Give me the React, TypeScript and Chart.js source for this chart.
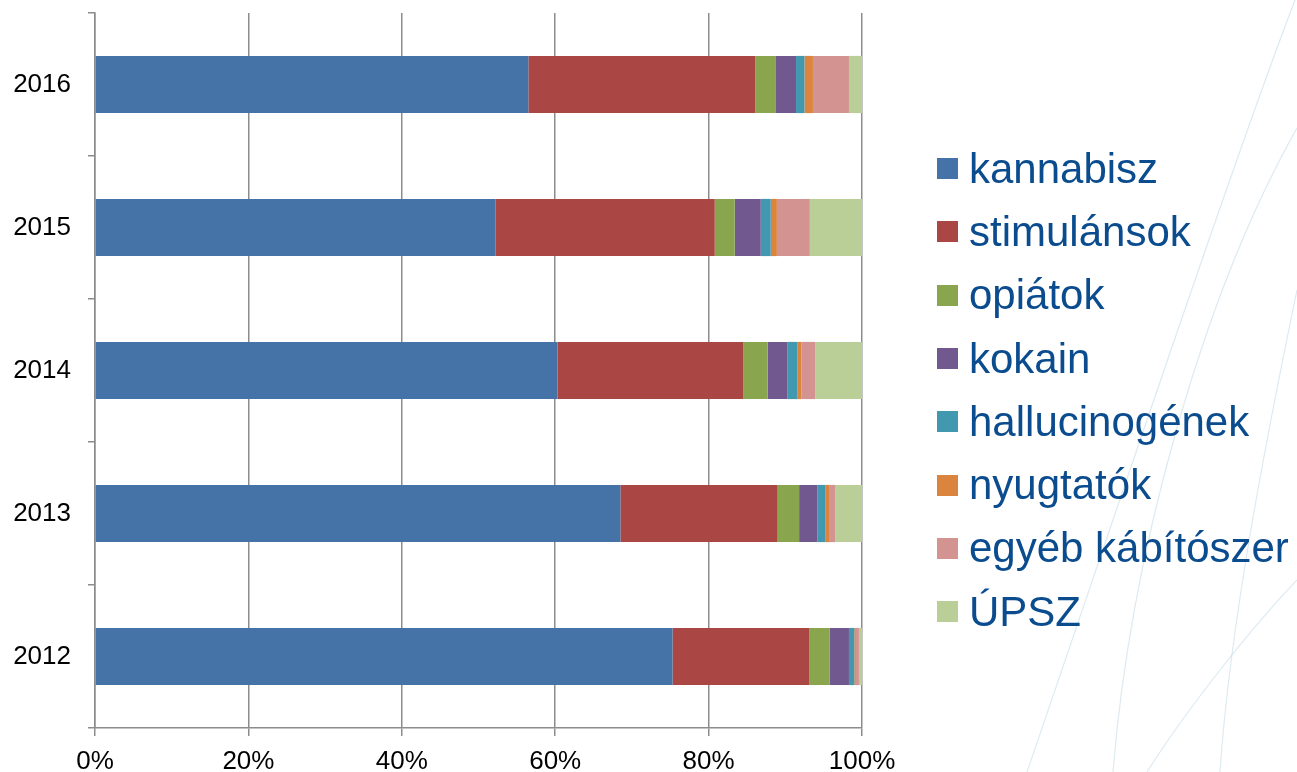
import React, { useEffect, useRef } from "react";
import { Chart, registerables } from "chart.js";

Chart.register(...registerables);

const years = ["2016", "2015", "2014", "2013", "2012"];
const seriesNames = [
  "kannabisz",
  "stimulánsok",
  "opiátok",
  "kokain",
  "hallucinogének",
  "nyugtatók",
  "egyéb kábítószer",
  "ÚPSZ",
];
const kannabisz = [56.5, 52.2, 60.3, 68.5, 75.3];
const stimulansok = [29.6, 28.6, 24.2, 20.5, 17.8];
const opiatok = [2.6, 2.6, 3.2, 2.8, 2.7];
const kokain = [2.7, 3.4, 2.6, 2.4, 2.5];
const hallucinogenek = [1.1, 1.3, 1.3, 1.0, 0.7];
const nyugtatok = [1.1, 0.8, 0.5, 0.6, 0.2];
const egyeb = [4.7, 4.3, 1.8, 0.7, 0.4];
const upsz = [1.7, 6.8, 6.1, 3.5, 0.4];
const xTicks = [0, 20, 40, 60, 80, 100];

const seriesValues = [kannabisz, stimulansok, opiatok, kokain, hallucinogenek, nyugtatok, egyeb, upsz];
const colors = ["#4573a7", "#aa4643", "#89a54e", "#71588f", "#4198af", "#db843d", "#d39391", "#b9cf97"];

const FONT = "'Liberation Sans', Arial, sans-serif";

const bgCurves = {
  id: "bgCurves",
  beforeDraw(chart: any) {
    const ctx = chart.ctx;
    ctx.save();
    ctx.strokeStyle = "rgba(180, 208, 225, 0.45)";
    ctx.lineWidth = 1.2;
    const curves = [
      [[1295, 0], [1230, 170], [1100, 560], [1027, 772]],
      [[1297, 128], [1200, 300], [1130, 560], [1113, 772]],
      [[1297, 290], [1270, 420], [1230, 620], [1220, 772]],
      [[1297, 580], [1240, 640], [1180, 720], [1147, 772]],
    ];
    for (const c of curves) {
      ctx.beginPath();
      ctx.moveTo(c[0][0], c[0][1]);
      ctx.bezierCurveTo(c[1][0], c[1][1], c[2][0], c[2][1], c[3][0], c[3][1]);
      ctx.stroke();
    }
    ctx.restore();
  },
};

export default function App() {
  const canvasRef = useRef<HTMLCanvasElement | null>(null);

  useEffect(() => {
    document.body.style.margin = "0";
    const canvas = canvasRef.current;
    if (!canvas) return;
    const chart = new Chart(canvas, {
      type: "bar",
      data: {
        labels: years,
        datasets: seriesNames.map((name, i) => ({
          label: name,
          data: seriesValues[i],
          backgroundColor: colors[i],
          borderWidth: 0,
          barPercentage: 0.4,
          categoryPercentage: 1,
        })),
      },
      options: {
        indexAxis: "y",
        animation: false,
        responsive: false,
        maintainAspectRatio: false,
        layout: { padding: { left: 0, top: 13, right: 435, bottom: 0 } },
        plugins: {
          legend: { display: false },
          tooltip: { enabled: false },
        },
        scales: {
          x: {
            stacked: true,
            min: 0,
            max: 100,
            afterBuildTicks: (scale: any) => {
              scale.ticks = xTicks.map((v) => ({ value: v }));
            },
            afterFit: (scale: any) => {
              scale.height = 44;
            },
            ticks: {
              callback: (v: any) => v + "%",
              color: "#000",
              font: { family: FONT, size: 26 },
              padding: 10,
              maxRotation: 0,
            },
            grid: {
              color: "#8c8c8c",
              lineWidth: 1.5,
              tickLength: 8,
              drawTicks: true,
            },
            border: { display: true, color: "#8c8c8c", width: 1.5 },
          },
          y: {
            stacked: true,
            afterFit: (scale: any) => {
              scale.width = 95;
              scale.paddingTop = 0;
              scale.paddingBottom = 0;
            },
            ticks: {
              color: "#000",
              font: { family: FONT, size: 26 },
              padding: 17,
            },
            grid: {
              offset: true,
              drawOnChartArea: false,
              drawTicks: true,
              tickLength: 7,
              color: "#8c8c8c",
              lineWidth: 1.5,
            },
            border: { display: true, color: "#8c8c8c", width: 1.5 },
          },
        },
      },
      plugins: [bgCurves],
    });
    return () => chart.destroy();
  }, []);

  return (
    <div style={{ position: "absolute", left: 0, top: 0, width: 1297, height: 772, background: "#fff", overflow: "hidden" }}>
      <canvas ref={canvasRef} width={1297} height={772} style={{ display: "block", width: 1297, height: 772 }} />
      <div style={{ position: "absolute", left: 937, top: 137, fontFamily: FONT }}>
        {seriesNames.map((name, i) => (
          <div key={name} style={{ display: "flex", alignItems: "center", height: 63.3 }}>
            <span style={{ display: "inline-block", width: 21, height: 21, background: colors[i], marginRight: 11 }} />
            <span style={{ fontSize: 42, color: "#0b4c8f", lineHeight: "48px", whiteSpace: "nowrap" }}>{name}</span>
          </div>
        ))}
      </div>
    </div>
  );
}
